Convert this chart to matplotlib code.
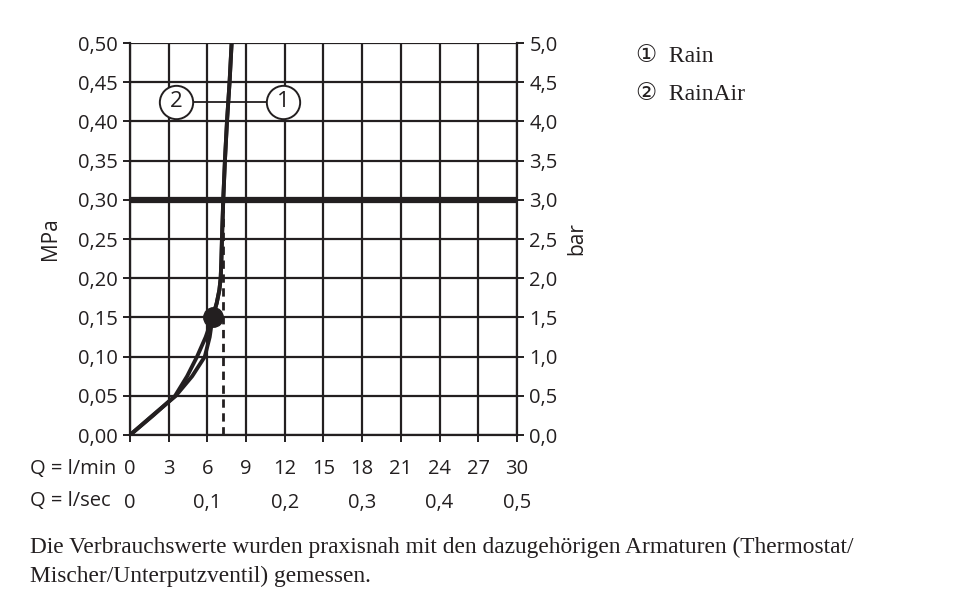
import numpy as np
import matplotlib.pyplot as plt
from matplotlib.ticker import FixedLocator

# flow rate (l/min) vs pressure (MPa)
press = [0, 0.025, 0.05, 0.075, 0.10, 0.125, 0.15, 0.168, 0.185, 0.20,
         0.22, 0.25, 0.30, 0.35, 0.40, 0.45, 0.50]
flow_rain = [0, 1.8, 3.5, 4.43, 5.2, 5.87, 6.4, 6.72, 6.93, 7.03,
             7.08, 7.13, 7.23, 7.36, 7.52, 7.72, 7.88]
flow_rainair = [0, 1.75, 3.55, 4.82, 5.8, 6.18, 6.4, 6.72, 6.93, 7.03,
                7.08, 7.13, 7.23, 7.36, 7.52, 7.72, 7.88]

operating_point = (6.4, 0.15)
ref_pressure = 0.30
ref_flow = 7.2

x_ticks = list(range(0, 31, 3))
y_ticks = [i * 0.05 for i in range(11)]
bar_ticks = [i * 0.5 for i in range(11)]
lps_ticks = [0, 0.1, 0.2, 0.3, 0.4, 0.5]

legend_items = ["\u2460  Rain", "\u2461  RainAir"]
caption = ("Die Verbrauchswerte wurden praxisnah mit den dazugehörigen Armaturen (Thermostat/\n"
           "Mischer/Unterputzventil) gemessen.")

ink = "#231f20"
sans = ["Open Sans", "DejaVu Sans"]
serif = ["Liberation Serif", "DejaVu Sans"]
plt.rcParams["font.family"] = sans
fs = 14.5

fig = plt.figure(figsize=(9.6, 6.12), dpi=100)
ax = fig.add_axes([0.1354, 0.2892, 0.4031, 0.6405])

ax.set_xlim(0, 30)
ax.set_ylim(0, 0.5)
ax.set_xticks(x_ticks)
ax.set_xticklabels([str(v) for v in x_ticks])
ax.set_yticks(y_ticks)
ax.set_yticklabels([f"{v:.2f}".replace(".", ",") for v in y_ticks])
ax.grid(True, color=ink, lw=1.6)
for s in ax.spines.values():
    s.set_color(ink)
    s.set_linewidth(1.6)
ax.spines["top"].set_visible(False)
ax.tick_params(axis="both", direction="out", length=5, width=1.4, color=ink,
               labelcolor=ink, labelsize=fs)
ax.tick_params(axis="x", pad=12)
ax.tick_params(axis="y", pad=4)
ax.set_ylabel("MPa", fontsize=15, color=ink, labelpad=12)

# thick reference line and dashed flow marker
ax.axhline(ref_pressure, color=ink, lw=4.5, zorder=3)
ax.plot([ref_flow, ref_flow], [0, ref_pressure], color=ink, lw=2,
        ls=(0, (3, 2)), zorder=3)

ax.plot(flow_rain, press, color=ink, lw=2.8, solid_joinstyle="round",
        solid_capstyle="round", zorder=4)
ax.plot(flow_rainair, press, color=ink, lw=2.8, solid_joinstyle="round",
        solid_capstyle="round", zorder=4)
ax.plot(*operating_point, "o", color=ink, ms=14, zorder=5)

# curve callouts
ax.plot([3.57, 11.9], [0.425, 0.425], color=ink, lw=1.3, zorder=5)
for xv, lab in [(3.57, "2"), (11.9, "1")]:
    ax.plot(xv, 0.425, "o", ms=24, mfc="white", mec=ink, mew=1.4, zorder=6)
    ax.text(xv, 0.425, lab, ha="center", va="center", fontsize=16,
            color=ink, zorder=7)

# right axis in bar
ax2 = ax.twinx()
ax2.set_ylim(0, 5)
ax2.set_yticks(bar_ticks)
ax2.set_yticklabels([f"{v:.1f}".replace(".", ",") for v in bar_ticks])
ax2.tick_params(axis="y", direction="out", length=5, width=1.4, color=ink,
                labelcolor=ink, labelsize=fs, pad=4)
for s in ax2.spines.values():
    s.set_visible(False)
ax2.set_ylabel("bar", fontsize=15, color=ink, labelpad=6)

# second row of flow labels in l/sec
sec = ax.secondary_xaxis("bottom", functions=(lambda q: q / 60, lambda q: q * 60))
sec.xaxis.set_major_locator(FixedLocator(lps_ticks))
sec.set_xticklabels(["0"] + [f"{v:.1f}".replace(".", ",") for v in lps_ticks[1:]])
sec.tick_params(axis="x", length=0, pad=42, labelsize=fs, labelcolor=ink)
sec.spines["bottom"].set_visible(False)

fig.text(30 / 960, 1 - 469 / 612, "Q = l/min", fontsize=fs, color=ink, va="center")
fig.text(30 / 960, 1 - 501 / 612, "Q = l/sec", fontsize=fs, color=ink, va="center")

for i, item in enumerate(legend_items):
    fig.text(636 / 960, 1 - (56 + 39 * i) / 612, item, fontsize=17,
             family=serif, color=ink, va="center")

fig.text(30 / 960, 1 - 562 / 612, caption, fontsize=16.8, family=serif,
         color=ink, va="center", linespacing=1.5)

plt.savefig("out.png", dpi=100)
